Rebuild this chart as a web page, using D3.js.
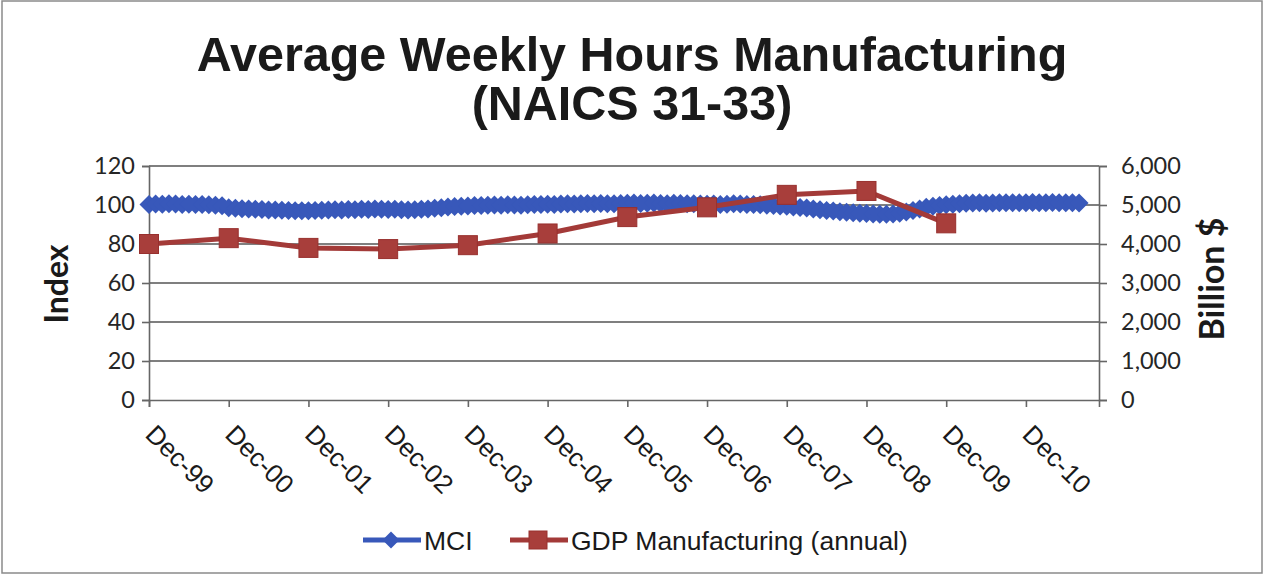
<!DOCTYPE html>
<html>
<head>
<meta charset="utf-8">
<script src="https://cdn.jsdelivr.net/npm/d3@7"></script>
<style>
  body { margin: 0; background: #fff; }
  svg { display: block; }
</style>
</head>
<body>
<svg id="chart" width="1265" height="576"></svg>
<script>
// x tick labels, one per December
var xTickLabels = ["Dec-99", "Dec-00", "Dec-01", "Dec-02", "Dec-03", "Dec-04",
  "Dec-05", "Dec-06", "Dec-07", "Dec-08", "Dec-09", "Dec-10"];
var monthCount = 144; // Dec-99 .. Nov-11 on the category axis

// MCI, monthly from Dec-99
var mciValues = [
  100.2, 100.5, 100.4, 100.6, 100.5, 100.3, 100.4, 100.2, 100.3, 100.1, 99.9, 99.6,
  98.6, 98.3, 98.1, 97.9, 97.8, 97.7, 97.5, 97.4, 97.3, 97.2, 97.1, 97.0,
  97.1, 97.2, 97.3, 97.5, 97.6, 97.5, 97.7, 97.6, 97.8, 97.7, 97.9, 97.8,
  97.7, 97.8, 97.6, 97.5, 97.6, 97.8, 98.0, 98.3, 98.6, 99.0, 99.2, 99.4,
  99.5, 99.7, 99.8, 99.9, 100.0, 99.9, 100.1, 100.0, 99.9, 100.1, 100.2, 100.3,
  100.4, 100.3, 100.5, 100.6, 100.5, 100.7, 100.8, 100.7, 100.8, 100.6, 100.7, 100.8,
  100.9, 101.0, 100.8, 100.9, 101.0, 100.8, 100.7, 100.9, 100.8, 100.6, 100.7, 100.5,
  100.4, 100.5, 100.3, 100.4, 100.6, 100.5, 100.3, 100.2, 100.1, 99.9, 99.7, 99.5,
  99.3, 99.0, 98.7, 98.4, 98.0, 97.6, 97.2, 96.9, 96.6, 96.3, 96.0, 95.8,
  95.6, 95.4, 95.3, 95.2, 95.4, 95.8, 96.4, 97.2, 98.0, 98.8, 99.4, 99.8,
  100.1, 100.4, 100.7, 100.9, 101.0, 101.1, 100.9, 101.0, 101.2, 101.1, 101.2, 101.1,
  101.2, 101.3, 101.1, 101.2, 101.3, 101.2, 101.1, 101.2, 101.0
];

// GDP Manufacturing (annual), billion $, plotted at December of each year
var gdpYears = [1999, 2000, 2001, 2002, 2003, 2004, 2005, 2006, 2007, 2008, 2009];
var gdpValues = [4000, 4150, 3900, 3870, 3970, 4270, 4690, 4940, 5260, 5360, 4530];

var leftTicks = [0, 20, 40, 60, 80, 100, 120];
var rightTicks = [0, 1000, 2000, 3000, 4000, 5000, 6000];

var blue = "#3858ba", red = "#a33a38";
var plot = { left: 149, right: 1099, top: 166, bottom: 400 };

var svg = d3.select("#chart");

svg.append("rect")
  .attr("x", 2).attr("y", 1).attr("width", 1260).attr("height", 572)
  .attr("fill", "#fff").attr("stroke", "#8a8a8a").attr("stroke-width", 1.5);

var x = d3.scaleLinear().domain([0, monthCount - 1]).range([plot.left, plot.right]);
var yL = d3.scaleLinear().domain([0, 120]).range([plot.bottom, plot.top]);
var yR = d3.scaleLinear().domain([0, 6000]).range([plot.bottom, plot.top]);

// gridlines
svg.append("g").selectAll("line")
  .data(leftTicks.slice(1))
  .join("line")
  .attr("x1", plot.left).attr("x2", plot.right)
  .attr("y1", d => yL(d)).attr("y2", d => yL(d))
  .attr("stroke", "#555").attr("stroke-width", 1.5);

// left axis
var gL = svg.append("g")
  .attr("transform", "translate(" + plot.left + ",0)")
  .call(d3.axisLeft(yL).tickValues(leftTicks).tickSize(7).tickPadding(7));
gL.selectAll("text").attr("font-family", "Lato, sans-serif").attr("font-size", 23.5).attr("fill", "#262626");

// right axis
var gR = svg.append("g")
  .attr("transform", "translate(" + plot.right + ",0)")
  .call(d3.axisRight(yR).tickValues(rightTicks).tickSize(8).tickPadding(14).tickFormat(d3.format(",")));
gR.selectAll("text").attr("font-family", "Lato, sans-serif").attr("font-size", 23.5).attr("fill", "#262626");

// bottom axis
var tickIdx = xTickLabels.map((d, i) => i * 12);
var gB = svg.append("g")
  .attr("transform", "translate(0," + plot.bottom + ")")
  .call(d3.axisBottom(x).tickValues(tickIdx).tickSize(7).tickFormat(""));

[gL, gR, gB].forEach(function(g) {
  g.selectAll("path, line").attr("stroke", "#666").attr("stroke-width", 1.6);
});

svg.append("g").selectAll("text")
  .data(xTickLabels)
  .join("text")
  .attr("transform", (d, i) => "translate(" + (x(i * 12) - 5) + ",436) rotate(45)")
  .attr("font-family", "'Liberation Sans', Arial, sans-serif")
  .attr("font-size", 26)
  .attr("fill", "#1a1a1a")
  .text(d => d);

// axis titles
svg.append("text")
  .attr("transform", "translate(68,284) rotate(-90)")
  .attr("text-anchor", "middle")
  .attr("font-family", "Lato, sans-serif").attr("font-weight", "bold").attr("font-size", 32)
  .attr("fill", "#1a1a1a")
  .text("Index");
svg.append("text")
  .attr("transform", "translate(1224,279) rotate(-90)")
  .attr("text-anchor", "middle")
  .attr("font-family", "Lato, sans-serif").attr("font-weight", "bold").attr("font-size", 34)
  .attr("fill", "#1a1a1a")
  .text("Billion $");

// title
var title = svg.append("text")
  .attr("text-anchor", "middle")
  .attr("font-family", "'Liberation Sans', Arial, sans-serif")
  .attr("font-weight", "bold").attr("font-size", 48.5).attr("fill", "#1a1a1a");
title.append("tspan").attr("x", 632).attr("y", 71).text("Average Weekly Hours Manufacturing");
title.append("tspan").attr("x", 632).attr("y", 120).text("(NAICS 31-33)");

function diamond(r) { return "M0," + (-r) + "L" + r + ",0L0," + r + "L" + (-r) + ",0Z"; }

// MCI series
var mciLine = d3.line().x((d, i) => x(i)).y(d => yL(d));
svg.append("path")
  .datum(mciValues)
  .attr("d", mciLine)
  .attr("fill", "none").attr("stroke", blue).attr("stroke-width", 5);
svg.append("g").selectAll("path")
  .data(mciValues)
  .join("path")
  .attr("transform", (d, i) => "translate(" + x(i) + "," + yL(d) + ")")
  .attr("d", diamond(9.5))
  .attr("fill", blue);

// GDP series
var gdpData = gdpYears.map((yr, i) => ({ m: (yr - 1999) * 12, v: gdpValues[i] }));
var gdpLine = d3.line().x(d => x(d.m)).y(d => yR(d.v));
svg.append("path")
  .datum(gdpData)
  .attr("d", gdpLine)
  .attr("fill", "none").attr("stroke", red).attr("stroke-width", 5);
svg.append("g").selectAll("rect")
  .data(gdpData)
  .join("rect")
  .attr("x", d => x(d.m) - 9.5).attr("y", d => yR(d.v) - 9.5)
  .attr("width", 19).attr("height", 19)
  .attr("fill", "#a83e3b").attr("stroke", "#98302e").attr("stroke-width", 1);

// legend
var lg = svg.append("g").attr("transform", "translate(0,540)");
lg.append("line").attr("x1", 363).attr("x2", 421).attr("stroke", blue).attr("stroke-width", 5);
lg.append("path").attr("transform", "translate(391,0)").attr("d", diamond(8.5)).attr("fill", blue);
lg.append("text").attr("x", 424).attr("y", 9.5)
  .attr("font-family", "'Liberation Sans', Arial, sans-serif").attr("font-size", 26.5).attr("fill", "#1a1a1a")
  .text("MCI");
lg.append("line").attr("x1", 510).attr("x2", 568).attr("stroke", red).attr("stroke-width", 5);
lg.append("rect").attr("x", 529).attr("y", -9).attr("width", 18).attr("height", 18)
  .attr("fill", "#a83e3b").attr("stroke", "#98302e");
lg.append("text").attr("x", 571).attr("y", 9.5)
  .attr("font-family", "'Liberation Sans', Arial, sans-serif").attr("font-size", 26.5).attr("fill", "#1a1a1a")
  .text("GDP Manufacturing (annual)");
</script>
</body>
</html>
